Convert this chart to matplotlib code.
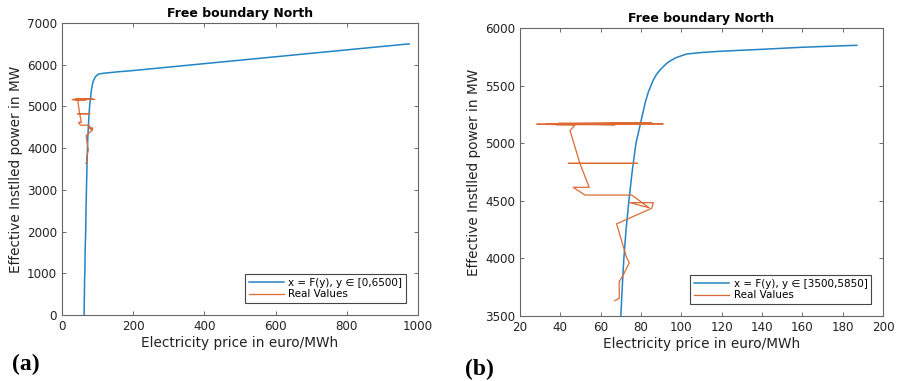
import matplotlib
matplotlib.use("Agg")
import matplotlib.pyplot as plt
import numpy as np

# fitted curve x = F(y) (zoomed)
curve_y = [3500, 3750, 4000, 4250, 4500, 4750, 5000, 5129, 5230, 5360, 5447,
           5549, 5600, 5635, 5693, 5720, 5745, 5774, 5786, 5798, 5815, 5833,
           5850]
curve_x = [70.0, 70.7, 71.5, 72.6, 74.0, 75.6, 77.5, 79.2, 80.5, 82.2, 83.7,
           86.1, 87.8, 89.4, 92.7, 95.0, 97.7, 102.6, 109.2, 119.2, 140.0, 160.0,
           187.0]

# extra parts of the curve seen only in the left panel
low_y = [0, 500, 900, 1000, 1500, 2000, 2500, 3000]
low_x = [62.0, 63.0, 63.6, 64.3, 65.0, 66.5, 67.5, 68.7]
high_y = [6026, 6191, 6356, 6500]
high_x = [400.0, 600.0, 800.0, 975.0]

# real values (price, power)
real_x = [67.0, 69.2, 69.2, 71.2, 74.2, 72.8, 67.9, 85.3, 86.1, 74.5, 84.0,
          75.4, 52.2, 46.4, 54.3, 49.7, 44.0, 78.2, 49.7, 44.8, 47.3, 28.3,
          91.0, 39.0, 85.3, 38.0, 67.1, 40.0, 80.3, 33.0, 85.0, 39.0, 80.0]
real_y = [3633, 3654, 3798, 3856, 3963, 4010, 4300, 4435, 4484, 4484, 4440,
          4550, 4550, 4617, 4617, 4825, 4825, 4825, 4825, 5110, 5158, 5165,
          5168, 5172, 5174, 5162, 5160, 5170, 5172, 5168, 5175, 5165, 5170]

blue = "#2383c4"
orange = "#dd6a35"

plt.rcParams["font.family"] = "DejaVu Sans"

fig = plt.figure(figsize=(8.97, 3.81), dpi=100)
ax_a = fig.add_axes([0.0691, 0.1732, 0.3969, 0.7664])
ax_b = fig.add_axes([0.5797, 0.1706, 0.4047, 0.7559])

full_x = low_x + curve_x + high_x
full_y = low_y + curve_y + high_y

panels = [
    (ax_a, full_x, full_y, "x = F(y), y \u2208 [0,6500]", (0, 1000), (0, 7000),
     np.arange(0, 1001, 200), np.arange(0, 7001, 1000)),
    (ax_b, curve_x, curve_y, "x = F(y), y \u2208 [3500,5850]", (20, 200), (3500, 6000),
     np.arange(20, 201, 20), np.arange(3500, 6001, 500)),
]

for ax, cx, cy, lab, xl, yl, xt, yt in panels:
    ax.plot(cx, cy, color=blue, lw=1.1, label=lab)
    ax.plot(real_x, real_y, color=orange, lw=0.9, label="Real Values")
    ax.set_xlim(*xl)
    ax.set_ylim(*yl)
    ax.set_xticks(xt)
    ax.set_yticks(yt)
    ax.tick_params(direction="in", top=True, right=True, labelsize=8.6,
                   length=3, width=0.6, color="#555555", labelcolor="#222222")
    for sp in ax.spines.values():
        sp.set_color("#666666")
        sp.set_linewidth(0.8)
    ax.set_title("Free boundary North", fontsize=9, fontweight="bold", pad=4)
    ax.set_xlabel("Electricity price in euro/MWh", fontsize=9.8, labelpad=2, color="#222222")
    ax.set_ylabel("Effective Instlled power in MW", fontsize=9.8, labelpad=3, color="#222222")
    leg = ax.legend(loc="lower right", fontsize=7.5, handlelength=3.4, fancybox=False,
                    framealpha=1, borderaxespad=1.15, labelspacing=0.15,
                    handletextpad=0.4, borderpad=0.35)
    leg.get_frame().set_edgecolor("#444444")
    leg.get_frame().set_linewidth(0.8)

fig.text(0.013, 0.03, "(a)", fontsize=17, fontweight="bold", family="Liberation Serif")
fig.text(0.518, 0.015, "(b)", fontsize=17, fontweight="bold", family="Liberation Serif")

fig.savefig("out.png", dpi=100)
